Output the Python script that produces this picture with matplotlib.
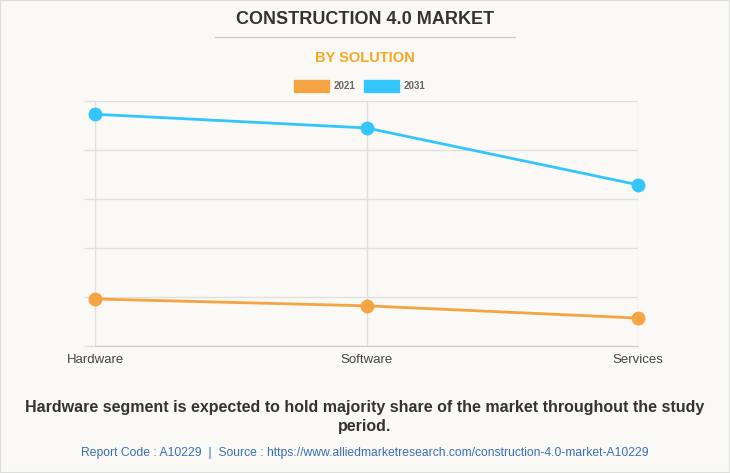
import matplotlib.pyplot as plt
from matplotlib.patches import Rectangle
from matplotlib.lines import Line2D

categories = ['Hardware', 'Software', 'Services']
values_2021 = [0.96, 0.82, 0.57]
values_2031 = [4.73, 4.45, 3.29]
series_names = ['2021', '2031']
colors = ['#f4a442', '#33c6fd']

W, H = 730, 473
fig = plt.figure(figsize=(W / 100, H / 100), dpi=100)
fig.patch.set_facecolor('#faf9f5')
plt.rcParams['font.family'] = ['Liberation Sans', 'DejaVu Sans']

ax = fig.add_axes([95 / W, (H - 346) / H, (638 - 95) / W, (346 - 101) / H])
ax.set_facecolor('#faf9f5')
x = range(len(categories))
for vals, c in zip([values_2021, values_2031], colors):
    ax.plot(x, vals, color=c, lw=2.0, marker='o', markersize=9, zorder=3,
            solid_capstyle='round', clip_on=False)

ax.set_xlim(0, 2)
ax.set_ylim(0, 5)
ax.set_yticks([0, 1, 2, 3, 4, 5])
ax.set_yticklabels([])
ax.set_xticks(list(x))
ax.set_xticklabels(categories, fontsize=9.5, color='#444444')
ax.tick_params(axis='y', length=8, color='#e2e0dc', width=1)
ax.tick_params(axis='x', length=0, pad=6)
ax.grid(True, color='#e2e0dc', lw=1)
for s in ['top', 'right', 'left']:
    ax.spines[s].set_visible(False)
ax.spines['bottom'].set_color('#cccccc')
ax.set_axisbelow(True)

# titles
fig.text(365 / W, 1 - 20 / H, 'CONSTRUCTION 4.0 MARKET', ha='center', va='center',
         fontsize=13, fontweight='bold', color='#333333')
fig.add_artist(Line2D([215 / W, 515 / W], [1 - 37 / H] * 2, color='#cccccc', lw=1))
fig.text(365 / W, 1 - 58 / H, 'BY SOLUTION', ha='center', va='center',
         fontsize=10.5, fontweight='bold', color='#f5a623')

# legend
for i, (name, c) in enumerate(zip(series_names, colors)):
    x0 = 294 + i * 70
    fig.add_artist(Rectangle((x0 / W, 1 - 92 / H), 35 / W, 12 / H, color=c))
    fig.text((x0 + 40) / W, 1 - 86 / H, name, ha='left', va='center',
             fontsize=7, fontweight='bold', color='#666666')

fig.text(365 / W, 1 - 417 / H,
         'Hardware segment is expected to hold majority share of the market throughout the study\nperiod.',
         ha='center', va='center', fontsize=11.5, fontweight='bold', color='#333333',
         linespacing=1.35)
fig.text(365 / W, 1 - 453 / H,
         'Report Code : A10229  |  Source : https://www.alliedmarketresearch.com/construction-4.0-market-A10229',
         ha='center', va='center', fontsize=8.7, color='#3a6fb5')

fig.add_artist(Rectangle((0, 0), 1, 1, fill=False, ec='#dddddd', lw=1.5))
fig.savefig('out.png', dpi=100, facecolor=fig.get_facecolor())
